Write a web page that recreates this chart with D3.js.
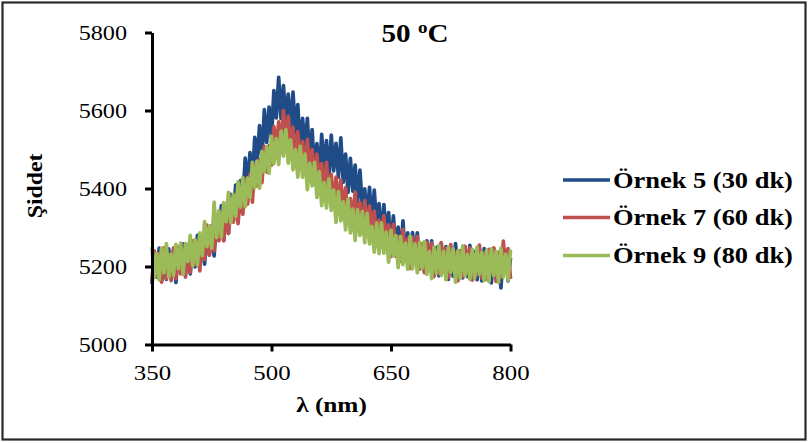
<!DOCTYPE html>
<html><head><meta charset="utf-8">
<script src="https://cdn.jsdelivr.net/npm/d3@7/dist/d3.min.js"></script>
<style>body{margin:0;background:#fff}svg{display:block}</style>
</head><body>
<svg id="chart" width="809" height="443"></svg>
<script>
const wavelengths = [350,353,356,359,362,365,368,371,374,377,380,383,386,389,392,395,398,401,404,407,410,413,416,419,422,425,428,431,434,437,440,443,446,449,452,455,458,461,464,467,470,473,476,479,482,485,488,491,494,497,500,503,506,509,512,515,518,521,524,527,530,533,536,539,542,545,548,551,554,557,560,563,566,569,572,575,578,581,584,587,590,593,596,599,602,605,608,611,614,617,620,623,626,629,632,635,638,641,644,647,650,653,656,659,662,665,668,671,674,677,680,683,686,689,692,695,698,701,704,707,710,713,716,719,722,725,728,731,734,737,740,743,746,749,752,755,758,761,764,767,770,773,776,779,782,785,788,791,794,797,800];
const seriesNames = ["Örnek 5 (30 dk)", "Örnek 7 (60 dk)", "Örnek 9 (80 dk)"];
const ornek5 = [5155,5235,5173,5247,5162,5220,5167,5245,5179,5242,
5159,5238,5191,5258,5179,5246,5181,5262,5199,5280,
5211,5263,5206,5298,5230,5305,5227,5328,5271,5356,
5267,5350,5285,5385,5315,5409,5329,5420,5369,5478,
5408,5492,5418,5531,5474,5561,5475,5602,5518,5609,
5530,5651,5581,5685,5579,5664,5570,5642,5547,5647,
5541,5615,5494,5580,5503,5580,5464,5551,5438,5515,
5431,5539,5445,5523,5424,5537,5445,5516,5429,5530,
5416,5488,5390,5477,5393,5460,5364,5447,5353,5399,
5322,5403,5309,5396,5302,5361,5268,5359,5281,5338,
5242,5330,5242,5301,5221,5317,5224,5286,5210,5287,
5219,5286,5201,5258,5187,5266,5197,5266,5188,5249,
5176,5258,5193,5251,5167,5246,5175,5259,5182,5236,
5171,5249,5174,5254,5183,5238,5166,5243,5163,5246,
5177,5239,5158,5246,5171,5229,5145,5240,5241,5163,
5222];
const ornek7 = [5162,5240,5175,5233,5160,5248,5169,5231,5164,5248,
5169,5250,5181,5240,5173,5256,5185,5266,5205,5262,
5189,5281,5218,5306,5229,5297,5240,5332,5266,5335,
5266,5344,5285,5374,5314,5383,5310,5389,5334,5423,
5360,5436,5365,5461,5407,5474,5415,5508,5442,5510,
5460,5559,5499,5571,5501,5600,5509,5585,5515,5556,
5474,5546,5462,5520,5450,5526,5442,5500,5412,5488,
5414,5464,5388,5467,5384,5436,5354,5429,5364,5422,
5335,5402,5313,5374,5319,5391,5302,5364,5287,5369,
5300,5355,5280,5342,5254,5319,5250,5330,5253,5307,
5226,5308,5226,5277,5213,5295,5215,5272,5195,5274,
5213,5277,5193,5258,5184,5262,5197,5260,5174,5239,
5182,5261,5186,5247,5172,5256,5191,5235,5163,5241,
5174,5252,5184,5248,5165,5229,5179,5255,5171,5234,
5167,5244,5190,5248,5162,5236,5173,5265,5186,5246,
5168];
const ornek9 = [5250,5172,5233,5166,5247,5184,5259,5173,5232,5178,
5257,5194,5260,5180,5259,5213,5280,5202,5269,5205,
5286,5228,5315,5251,5303,5247,5365,5274,5343,5276,
5364,5315,5390,5312,5385,5329,5417,5352,5428,5353,
5427,5377,5467,5402,5470,5401,5495,5443,5507,5439,
5534,5464,5528,5462,5547,5483,5551,5465,5525,5448,
5500,5429,5508,5429,5488,5397,5465,5407,5467,5377,
5443,5356,5415,5350,5425,5344,5396,5313,5392,5317,
5366,5294,5372,5286,5347,5267,5346,5280,5341,5261,
5336,5258,5303,5237,5311,5233,5312,5234,5288,5211,
5293,5227,5279,5197,5277,5205,5260,5193,5278,5194,
5258,5184,5262,5196,5264,5180,5238,5169,5250,5183,
5254,5177,5239,5166,5249,5185,5245,5160,5240,5170,
5253,5177,5231,5167,5244,5170,5250,5180,5236,5164,
5242,5161,5245,5177,5239,5159,5247,5173,5231,5165,
5243];
const xTicks = [350, 500, 650, 800];
const yTicks = [5000, 5200, 5400, 5600, 5800];
const colors = ["#1f4b87", "#c0504d", "#9bbb59"];
const titleMain = "50 ";
const titleSup = "o";
const titleUnit = "C";
const xTitle = "λ (nm)";
const yTitle = "Şiddet";

const FONT = "'Liberation Serif','Times New Roman',serif";
const svg = d3.select("#chart");
svg.append("rect").attr("x", 2.5).attr("y", 2.5).attr("width", 803).attr("height", 437)
  .attr("fill", "#fff").attr("stroke", "#2a2a2a").attr("stroke-width", 2.2);

const x = d3.scaleLinear().domain([350, 800]).range([152, 510.5]);
const y = d3.scaleLinear().domain([5000, 5800]).range([344.5, 32.5]);

const series = [ornek5, ornek7, ornek9].map((v, i) => ({name: seriesNames[i], values: v, color: colors[i]}));
const line = d3.line().x((d, i) => x(wavelengths[i])).y(d => y(d));
const plot = svg.append("g");
series.forEach(s => {
  plot.append("path").datum(s.values).attr("d", line)
    .attr("fill", "none").attr("stroke", s.color).attr("stroke-width", 3.7)
    .attr("stroke-linejoin", "round");
});

// axes
const yAxis = svg.append("g").attr("transform", "translate(152,0)")
  .call(d3.axisLeft(y).tickValues(yTicks).tickSize(7).tickSizeOuter(0).tickFormat(d3.format("d")));
const xAxis = svg.append("g").attr("transform", "translate(0,344.5)")
  .call(d3.axisBottom(x).tickValues(xTicks).tickSize(7).tickSizeOuter(0).tickFormat(d3.format("d")));
[yAxis, xAxis].forEach(a => {
  a.select(".domain").attr("stroke", "#000").attr("stroke-width", 3);
  a.selectAll(".tick line").attr("stroke", "#000").attr("stroke-width", 3);
  a.selectAll(".tick text").attr("fill", "#000").attr("font-family", FONT).attr("font-size", 22);
});
yAxis.selectAll(".tick text").attr("x", null).attr("dy", "0.3em")
  .attr("transform", "translate(-25,0) scale(1.1,1)");
xAxis.selectAll(".tick text").attr("y", null).attr("dy", null)
  .attr("transform", "translate(0,35) scale(1.13,1)");

// titles
const t = svg.append("text").attr("font-family", FONT).attr("font-weight", "bold").attr("font-size", 26)
  .attr("text-anchor", "middle").attr("transform", "translate(415,41.5) scale(1.12,1)");
t.append("tspan").text(titleMain);
t.append("tspan").attr("font-size", 17).attr("dy", -9).text(titleSup);
t.append("tspan").attr("dy", 9).text(titleUnit);

svg.append("text").attr("font-family", FONT).attr("font-weight", "bold").attr("font-size", 22)
  .attr("text-anchor", "middle").attr("transform", "translate(331.5,412) scale(1.15,1)").text(xTitle);
svg.append("text").attr("font-family", FONT).attr("font-weight", "bold").attr("font-size", 22)
  .attr("text-anchor", "middle").attr("transform", "translate(42,186) rotate(-90) scale(1.08,1)").text(yTitle);

// legend
const legY = [180, 217.5, 255.5];
series.forEach((s, i) => {
  const lg = svg.append("g").attr("transform", `translate(0,${legY[i]})`);
  lg.append("line").attr("x1", 563).attr("x2", 610).attr("y1", 0).attr("y2", 0)
    .attr("stroke", s.color).attr("stroke-width", 3.5);
  lg.append("text").attr("font-family", FONT).attr("font-weight", "bold").attr("font-size", 23)
    .attr("transform", "translate(613,7.5) scale(1.15,1)").text(s.name);
});
</script>
</body></html>
